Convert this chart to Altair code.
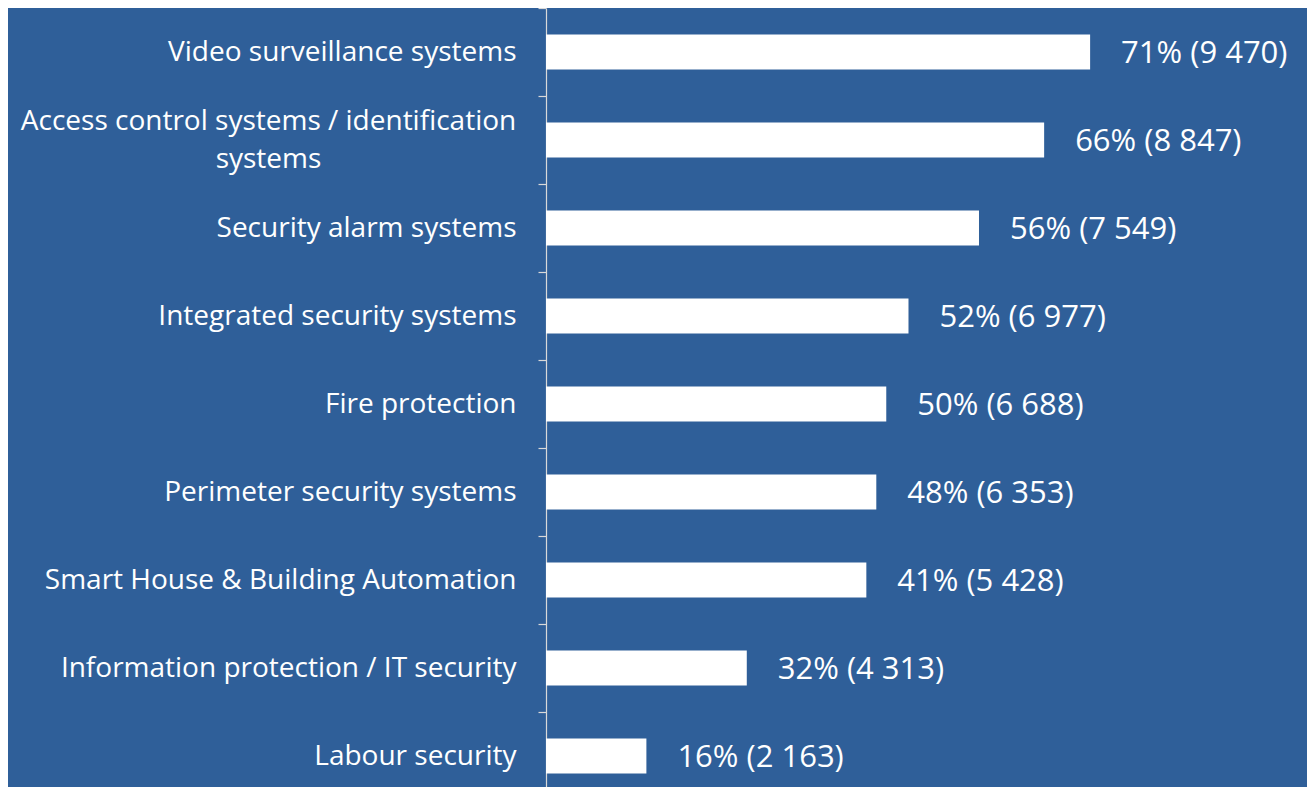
import altair as alt
import pandas as pd

categories = [
    "Video surveillance systems",
    "Access control systems / identification systems",
    "Security alarm systems",
    "Integrated security systems",
    "Fire protection",
    "Perimeter security systems",
    "Smart House & Building Automation",
    "Information protection / IT security",
    "Labour security",
]
# bar lengths as drawn in the picture (percent units)
bar_len = [71.0, 65.0, 56.5, 47.3, 44.4, 43.1, 41.8, 26.2, 13.1]
# values shown in the data labels
pct = [71, 66, 56, 52, 50, 48, 41, 32, 16]
counts = [9470, 8847, 7549, 6977, 6688, 6353, 5428, 4313, 2163]

labels = [f"{p}% ({c:,})".replace(",", " ") for p, c in zip(pct, counts)]
df = pd.DataFrame({"category": categories, "bar": bar_len, "label": labels})

BG = "#2F5F99"
FONT = "Open Sans"
LONG = "Access control systems / identification systems"
TEST = f"datum.value == '{LONG}'"

yscale = alt.Scale(paddingInner=0, paddingOuter=0, range=[0, 792])

y = alt.Y(
    "category:N",
    sort=categories,
    title=None,
    scale=yscale,
    axis=alt.Axis(
        tickBand="extent",
        tickSize=8,
        tickColor="#D9D9D9",
        domainColor="#D9D9D9",
        domainWidth=1.2,
        tickWidth=1.2,
        labelColor="white",
        labelFont=FONT,
        labelFontSize=28,
        labelLimit=0,
        labelLineHeight=38,
        labelAlign={"condition": {"test": TEST, "value": "center"}, "value": "right"},
        labelPadding={"condition": {"test": TEST, "value": 270}, "value": 22},
        labelOffset={"condition": {"test": TEST, "value": -19}, "value": 0},
        labelExpr=f"{TEST} ? ['Access control systems / identification', 'systems'] : datum.value",
        grid=False,
    ),
)

x = alt.X("bar:Q", title=None, scale=alt.Scale(domain=[0, 99.3], nice=False, zero=True), axis=None)

bars = alt.Chart(df).mark_bar(color="white", height={"band": 0.4}).encode(x=x, y=y)
text = alt.Chart(df).mark_text(
    align="left", baseline="middle", dx=31, dy=2, color="white", font=FONT, fontSize=31
).encode(x=x, y=alt.Y("category:N", sort=categories, scale=yscale), text="label:N")

chart = (
    alt.layer(bars, text)
    .properties(
        width=761,
        height=779,
        background=BG,
        padding={"left": 538, "top": 0, "right": 0, "bottom": 0},
        autosize="none",
    )
    .configure_view(stroke=None)
)

chart.save("out.html", embed_options={"renderer": "svg", "actions": False})
